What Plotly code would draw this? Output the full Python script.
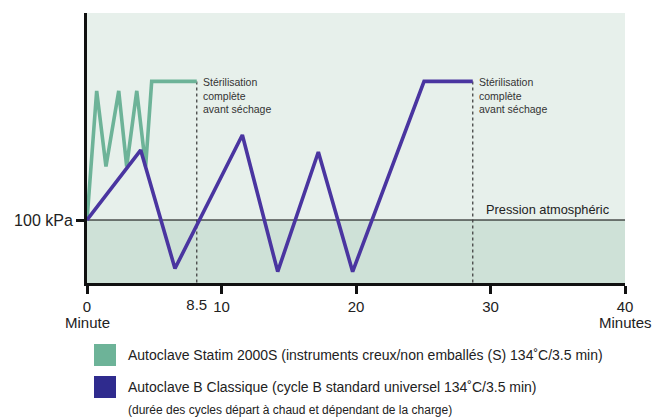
import plotly.graph_objects as go

# ---- data ----
statim_t = [0, 0.72, 1.41, 2.36, 2.95, 3.70, 4.36, 4.81, 8.16]
statim_p = [100, 305, 185, 305, 185, 305, 185, 320, 320]

classic_t = [0, 3.99, 6.54, 11.55, 14.18, 17.2, 19.75, 25.06, 28.68]
classic_p = [100, 211, 23, 235, 18, 208, 18, 320, 320]

atm_pressure = 100
x_ticks = [0, 10, 20, 30, 40]
x_ticktext = ["0", "10", "20", "30", "40"]
extra_tick_val = [8.16]
extra_tick_text = ["8.5"]

series_names = [
    "Autoclave Statim 2000S (instruments creux/non emballés (S) 134˚C/3.5 min)",
    "Autoclave B Classique (cycle B standard universel 134˚C/3.5 min)",
]
footnote = "(durée des cycles départ à chaud et dépendant de la charge)"
steril_label = ["Stérilisation", "complète", "avant séchage"]

GREEN = "#6db398"
PURPLE = "#4a35a0"
PURPLE_SW = "#2f2b8e"
BG_HI = "#e7f0eb"
BG_LO = "#cee1d7"
FONT = "Liberation Sans"
TXT = "#222222"

W, H = 656, 419
ML, MR, MT, MB = 87, 31, 13, 136
PW = W - ML - MR
PH = H - MT - MB
OX, OY = ML, MT

fig = go.Figure()

fig.add_trace(go.Scatter(x=statim_t, y=statim_p, mode="lines",
                         line=dict(color=GREEN, width=3.6), hoverinfo="skip",
                         showlegend=False))
fig.add_trace(go.Scatter(x=classic_t, y=classic_p, mode="lines",
                         line=dict(color=PURPLE, width=3.6), hoverinfo="skip",
                         showlegend=False))

shapes = []
shapes.append(dict(type="rect", xref="x", yref="y", x0=0, x1=40, y0=0, y1=atm_pressure,
                   fillcolor=BG_LO, line=dict(width=0), layer="below"))
shapes.append(dict(type="line", xref="x", yref="y", x0=0, x1=40, y0=atm_pressure,
                   y1=atm_pressure, line=dict(color="black", width=1), layer="below"))
for t, p in [(statim_t[-1], statim_p[-1]), (classic_t[-1], classic_p[-1])]:
    shapes.append(dict(type="line", xref="x", yref="y", x0=t, x1=t, y0=p, y1=0,
                       line=dict(color="#444444", width=1.3, dash="dot"), layer="below"))


def px_x(px):
    return (px - OX) / float(PW)


def px_y(py):
    return (OY + PH - py) / float(PH)


for color, top in [(GREEN, 344), (PURPLE_SW, 376)]:
    shapes.append(dict(type="rect", xref="paper", yref="paper",
                       x0=px_x(94), x1=px_x(116), y0=px_y(top), y1=px_y(top + 22),
                       fillcolor=color, line=dict(width=0)))

annotations = []
for t, p in [(statim_t[-1], statim_p[-1]), (classic_t[-1], classic_p[-1])]:
    annotations.append(dict(x=t, y=p, xref="x", yref="y",
                            text="<br>".join(steril_label),
                            showarrow=False, xanchor="left", yanchor="top",
                            align="left", xshift=4, yshift=7,
                            font=dict(family=FONT, size=10.5, color="#333333")))

annotations.append(dict(x=39.0, y=atm_pressure, xref="x", yref="y",
                        text="Pression atmosphéric", showarrow=False,
                        xanchor="right", yanchor="bottom", yshift=1,
                        font=dict(family=FONT, size=12.8, color=TXT)))

for xv, txt in [(0, "Minute"), (40, "Minutes")]:
    annotations.append(dict(x=xv, y=0, xref="x", yref="paper", text=txt,
                            showarrow=False, xanchor="center", yanchor="middle",
                            yshift=-39, font=dict(family=FONT, size=15, color=TXT)))

for name, cy, size in [(series_names[0], 355, 14), (series_names[1], 387, 14),
                       (footnote, 410, 12)]:
    annotations.append(dict(x=px_x(126), y=px_y(cy), xref="paper", yref="paper",
                            text=name, showarrow=False, xanchor="left",
                            yanchor="middle",
                            font=dict(family=FONT, size=size, color=TXT)))

fig.update_layout(
    width=W, height=H,
    margin=dict(l=ML, r=MR, t=MT, b=MB),
    paper_bgcolor="white",
    plot_bgcolor=BG_HI,
    showlegend=False,
    shapes=shapes,
    annotations=annotations,
    font=dict(family=FONT, color=TXT),
    xaxis=dict(range=[0, 40], tickvals=x_ticks, ticktext=x_ticktext,
               ticks="outside", ticklen=8, tickwidth=3, tickcolor="#111111",
               showline=True, linewidth=3, linecolor="#111111",
               showgrid=False, zeroline=False, fixedrange=True,
               tickfont=dict(family=FONT, size=15, color=TXT)),
    xaxis2=dict(range=[0, 40], overlaying="x", side="bottom", matches="x",
                tickvals=extra_tick_val, ticktext=extra_tick_text,
                ticks="outside", ticklen=8, tickwidth=3,
                tickcolor="rgba(0,0,0,0)", showline=False, showgrid=False,
                zeroline=False, tickfont=dict(family=FONT, size=15, color=TXT)),
    yaxis=dict(range=[0, 428.6], tickvals=[atm_pressure], ticktext=["100 kPa"],
               ticks="outside", ticklen=8, tickwidth=3, tickcolor="#111111",
               showline=True, linewidth=3, linecolor="#111111",
               showgrid=False, zeroline=False, fixedrange=True,
               tickfont=dict(family=FONT, size=16, color=TXT)),
)
fig.add_trace(go.Scatter(x=[None], y=[None], xaxis="x2", showlegend=False,
                         hoverinfo="skip"))

fig.write_html("out.html",
               config={"displayModeBar": False, "staticPlot": True},
               post_script="document.body.style.margin='0';"
                           "document.documentElement.style.overflow='hidden';")
